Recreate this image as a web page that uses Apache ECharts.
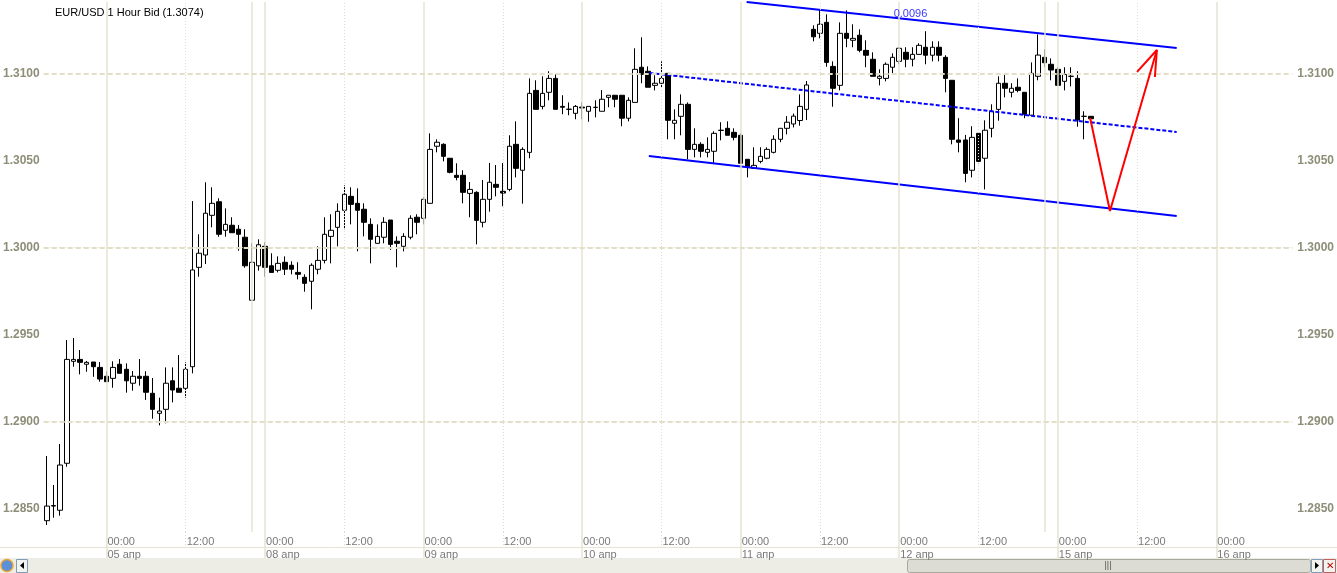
<!DOCTYPE html>
<html>
<head>
<meta charset="utf-8">
<script src="https://cdn.jsdelivr.net/npm/echarts@6/dist/echarts.min.js"></script>
<style>
html,body{margin:0;padding:0;background:#fff;}
#chart{width:1337px;height:573px;}
</style>
</head>
<body>
<div id="chart"></div>
<script>
// ---- categories (hourly slots, weekend skipped) ----
const days = ['04 апр','05 апр','08 апр','09 апр','10 апр','11 апр','12 апр','15 апр','16 апр'];
const firstHour = 15;
const slotCount = 189;
const weekStarts = [31, 151];

// ---- OHLC values (EUR/USD, 1 hour bid) ----
const opens = [1.28430,1.28514,1.28490,1.28760,1.29346,1.29357,1.29329,1.29342,1.29311,1.29260,1.29248,1.29329,1.29300,1.29220,1.29260,1.29260,1.29162,1.29047,1.29070,1.29234,1.29191,1.29191,1.29315,1.29886,1.29957,1.30185,1.30263,1.30099,1.30128,1.30105,1.30059,1.29697,1.29895,1.30007,1.29895,1.29869,1.29915,1.29898,1.29857,1.29829,1.29806,1.29875,1.29926,1.30064,1.30116,1.30214,1.30294,1.30254,1.30220,1.30133,1.30024,1.30059,1.30158,1.30036,1.30007,1.30059,1.30174,1.30168,1.30254,1.30582,1.30593,1.30513,1.30415,1.30415,1.30311,1.30317,1.30145,1.30277,1.30363,1.30323,1.30334,1.30593,1.30444,1.30547,1.30903,1.30811,1.30892,1.30972,1.30811,1.30794,1.30771,1.30807,1.30783,1.30806,1.30783,1.30863,1.30875,1.30875,1.30743,1.30834,1.31036,1.31013,1.30932,1.30944,1.31001,1.30714,1.30754,1.30823,1.30564,1.30593,1.30547,1.30553,1.30674,1.30685,1.30662,1.30645,1.30507,1.30455,1.30495,1.30513,1.30547,1.30622,1.30685,1.30710,1.30730,1.30794,1.31254,1.31231,1.31294,1.31041,1.30932,1.31231,1.31191,1.31220,1.31133,1.31082,1.30972,1.30972,1.31036,1.31070,1.31122,1.31082,1.31110,1.31151,1.31105,1.31151,1.31093,1.30961,1.30618,1.30618,1.30444,1.30656,1.30513,1.30685,1.30794,1.30944,1.30892,1.30921,1.30892,1.30760,1.30984,1.31093,1.31053,1.31024,1.30955,1.30984,1.30972,1.30754,1.30754];
const closes = [1.28514,1.28517,1.28750,1.29357,1.29357,1.29340,1.29340,1.29315,1.29244,1.29229,1.29311,1.29277,1.29234,1.29260,1.29248,1.29168,1.29070,1.29060,1.29220,1.29181,1.29168,1.29300,1.29871,1.29967,1.30197,1.30254,1.30076,1.30133,1.30085,1.30076,1.29895,1.29915,1.30016,1.29886,1.29857,1.29909,1.29875,1.29875,1.29846,1.29794,1.29898,1.29926,1.30076,1.30099,1.30208,1.30306,1.30248,1.30214,1.30145,1.30047,1.30064,1.30145,1.30018,1.30024,1.30064,1.30168,1.30145,1.30277,1.30564,1.30605,1.30524,1.30432,1.30403,1.30317,1.30334,1.30156,1.30277,1.30375,1.30346,1.30313,1.30582,1.30455,1.30564,1.30886,1.30794,1.30886,1.30972,1.30794,1.30806,1.30795,1.30811,1.30802,1.30811,1.30805,1.30852,1.30875,1.30852,1.30743,1.30846,1.31024,1.30995,1.30921,1.30944,1.30972,1.30731,1.30731,1.30823,1.30564,1.30593,1.30553,1.30564,1.30656,1.30673,1.30645,1.30633,1.30484,1.30464,1.30472,1.30524,1.30564,1.30622,1.30685,1.30720,1.30755,1.30811,1.30934,1.31211,1.31283,1.31064,1.30915,1.31231,1.31202,1.31202,1.31133,1.31105,1.30984,1.30984,1.31053,1.31093,1.31145,1.31082,1.31110,1.31162,1.31105,1.31151,1.31105,1.30972,1.30622,1.30605,1.30426,1.30633,1.30495,1.30674,1.30783,1.30944,1.30915,1.30915,1.30903,1.30766,1.31001,1.31106,1.31062,1.31020,1.30932,1.30995,1.30984,1.30733,1.30754,1.30740];
const lows = [1.28405,1.28447,1.28459,1.28740,1.29315,1.29271,1.29286,1.29257,1.29229,1.29229,1.29194,1.29277,1.29166,1.29177,1.29206,1.29124,1.29016,1.28978,1.28990,1.29110,1.29168,1.29137,1.29277,1.29832,1.29905,1.30116,1.30062,1.30062,1.30085,1.29982,1.29884,1.29697,1.29867,1.29832,1.29857,1.29857,1.29842,1.29846,1.29817,1.29746,1.29645,1.29846,1.29909,1.29909,1.30007,1.30105,1.30133,1.29978,1.30064,1.29909,1.30024,1.30024,1.29986,1.29886,1.29978,1.30047,1.30076,1.30133,1.30254,1.30547,1.30495,1.30426,1.30386,1.30254,1.30174,1.30018,1.30116,1.30206,1.30294,1.30237,1.30323,1.30403,1.30252,1.30513,1.30794,1.30794,1.30846,1.30794,1.30766,1.30760,1.30737,1.30737,1.30723,1.30748,1.30783,1.30806,1.30806,1.30697,1.30725,1.30834,1.30944,1.30921,1.30903,1.30921,1.30622,1.30622,1.30645,1.30507,1.30518,1.30518,1.30518,1.30484,1.30616,1.30645,1.30616,1.30484,1.30403,1.30455,1.30484,1.30507,1.30541,1.30605,1.30650,1.30690,1.30700,1.30733,1.31185,1.31202,1.31039,1.30809,1.30903,1.31151,1.31151,1.31122,1.31036,1.30984,1.30932,1.30955,1.30995,1.31053,1.31036,1.31041,1.31110,1.31053,1.31070,1.31070,1.30892,1.30593,1.30547,1.30375,1.30403,1.30484,1.30334,1.30633,1.30729,1.30863,1.30863,1.30892,1.30743,1.30760,1.30961,1.31036,1.30961,1.30932,1.30903,1.30926,1.30694,1.30622,1.30716];
const highs = [1.28802,1.28635,1.28871,1.29468,1.29480,1.29411,1.29348,1.29342,1.29342,1.29289,1.29346,1.29359,1.29334,1.29290,1.29359,1.29289,1.29250,1.29137,1.29311,1.29311,1.29382,1.29340,1.30267,1.30076,1.30375,1.30346,1.30283,1.30225,1.30174,1.30129,1.30105,1.30024,1.30047,1.30030,1.29967,1.29949,1.29949,1.29921,1.29915,1.29846,1.29909,1.30007,1.30174,1.30191,1.30254,1.30357,1.30346,1.30340,1.30254,1.30168,1.30133,1.30174,1.30158,1.30064,1.30082,1.30185,1.30191,1.30289,1.30656,1.30622,1.30599,1.30513,1.30484,1.30444,1.30376,1.30323,1.30388,1.30486,1.30474,1.30486,1.30645,1.30725,1.30576,1.30972,1.30961,1.30984,1.31013,1.30995,1.30875,1.30834,1.30819,1.30834,1.30811,1.30846,1.30905,1.30875,1.30875,1.30875,1.30863,1.31145,1.31208,1.31041,1.30990,1.31070,1.31001,1.30794,1.30880,1.30834,1.30685,1.30605,1.30633,1.30668,1.30720,1.30725,1.30685,1.30656,1.30507,1.30576,1.30576,1.30576,1.30645,1.30685,1.30755,1.30770,1.30880,1.30957,1.31277,1.31369,1.31340,1.31070,1.31294,1.31363,1.31283,1.31254,1.31191,1.31122,1.31024,1.31064,1.31116,1.31151,1.31151,1.31151,1.31174,1.31243,1.31185,1.31185,1.31105,1.30961,1.30743,1.30647,1.30697,1.30662,1.30731,1.30823,1.30984,1.30995,1.30944,1.30972,1.30892,1.31064,1.31225,1.31139,1.31087,1.31036,1.31036,1.31036,1.31013,1.30783,1.30756];

// ---- price axis ----
const yMin = 1.28365, yMax = 1.31411;
const yTicks = [1.285, 1.290, 1.295, 1.300, 1.305, 1.310];
const yMajor = [1.290, 1.300, 1.310];
const yMinor = [1.285, 1.295, 1.305];

// ---- drawn objects (slot index, price) ----
const channelTop = [[105.9, 1.31411], [171.0, 1.31147]];
const channelMid = [[91.2, 1.31003], [171.0, 1.30664]];
const channelLow = [[91.1, 1.30526], [171.0, 1.30181]];
const forecast = [[157.9, 1.30744], [160.9, 1.30210], [168.0, 1.31135]];
const arrowHead = [[165.0, 1.31009], [168.0, 1.31135], [167.7, 1.30980]];
const channelLabel = [[130.7, 1.31342, '0.0096']];
const titleText = 'EUR/USD 1 Hour Bid (1.3074)';

// ---- build ----
const categories = [];
days.forEach((d, di) => {
  for (let h = (di === 0 ? firstHour : 0); h < 24; h++) {
    if (categories.length < slotCount) categories.push(d + ' ' + String(h).padStart(2, '0') + ':00');
  }
});
const hourOf = i => categories[i].slice(-5);
const dayOf = i => categories[i].slice(0, -6);
const midnights = [], noons = [];
categories.forEach((c, i) => { if (hourOf(i) === '00:00') midnights.push(i); if (hourOf(i) === '12:00') noons.push(i); });
const candles = opens.map((o, i) => [o, closes[i], lows[i], highs[i]]);

const BAND = 6.62;
const GL = 42.4, GT = 2, GH = 530;
const GW = BAND * slotCount;
const GRIDC = '#e3dfc6';
const LABC = '#8e8e78';

const chart = echarts.init(document.getElementById('chart'), null, {renderer: 'canvas'});
const font = 'Liberation Sans, Arial, sans-serif';

const vLines = [];
midnights.forEach(i => vLines.push({xAxis: i, lineStyle: {type: 'solid', color: '#e6e3d0', width: 1.5}}));
weekStarts.forEach(i => vLines.push({xAxis: i, lineStyle: {type: 'solid', color: '#e6e3d0', width: 1.5}}));
noons.forEach(i => vLines.push({xAxis: i, lineStyle: {type: [1, 2], color: '#e0ddcc', width: 1}}));
const hLines = [];
yMajor.forEach(v => hLines.push({yAxis: v, lineStyle: {type: [5, 3], color: GRIDC, width: 2}}));
yMinor.forEach(v => hLines.push({yAxis: v, lineStyle: {type: [1, 2], color: '#e0ddcc', width: 1}}));

const yAxisCommon = {
  type: 'value', min: yMin, max: yMax, scale: true,
  axisLine: {show: false}, axisTick: {show: false}, splitLine: {show: false},
  axisLabel: {customValues: yTicks, formatter: v => v.toFixed(4), color: LABC, fontWeight: 'bold', fontSize: 12, fontFamily: font, margin: 4}
};

chart.setOption({
  animation: false,
  backgroundColor: '#ffffff',
  title: {text: titleText, left: 50, top: 2, textStyle: {fontSize: 11, fontWeight: 'normal', color: '#000', fontFamily: font}},
  grid: {left: GL, top: GT, width: GW, height: GH},
  xAxis: [
    {
      type: 'category', data: categories, boundaryGap: true,
      axisLine: {show: false},
      axisTick: {show: true, alignWithLabel: true, length: 26, interval: (i) => hourOf(i) === '00:00', lineStyle: {color: '#e6e3d0', width: 1.5}},
      splitLine: {show: false},
      axisLabel: {
        interval: (i) => hourOf(i) === '00:00' || hourOf(i) === '12:00',
        formatter: (v, i) => hourOf(i) === '00:00' ? '00:00\n' + dayOf(i) : hourOf(i),
        align: 'left', padding: [0, 0, 0, 1], margin: 3, lineHeight: 13,
        color: '#7a7a7a', fontSize: 11, fontFamily: font
      }
    },
    {type: 'value', min: -0.5, max: slotCount - 0.5, show: false},
    {
      type: 'category', data: categories, boundaryGap: true, position: 'bottom',
      axisLine: {show: false}, axisLabel: {show: false}, splitLine: {show: false},
      axisTick: {show: true, alignWithLabel: true, length: 15, interval: (i) => hourOf(i) === '12:00', lineStyle: {color: '#e0ddcc', width: 1, type: [1, 2]}}
    }
  ],
  yAxis: [
    Object.assign({}, yAxisCommon, {position: 'left'}),
    Object.assign({}, yAxisCommon, {position: 'right', axisLabel: Object.assign({}, yAxisCommon.axisLabel, {margin: 5})})
  ],
  series: [
    {
      type: 'line', data: [], z: 1, silent: true,
      markLine: {symbol: 'none', silent: true, label: {show: false}, animation: false, data: vLines.concat(hLines)}
    },
    {
      type: 'candlestick', data: candles, z: 3, barWidth: 5,
      itemStyle: {color: '#ffffff', color0: '#000000', borderColor: '#000000', borderColor0: '#000000', borderWidth: 1}
    },
    {type: 'line', xAxisIndex: 1, data: channelTop, symbol: 'none', z: 4, lineStyle: {color: '#0000ff', width: 2}},
    {type: 'line', xAxisIndex: 1, data: channelMid, symbol: 'none', z: 4, lineStyle: {color: '#0000ff', width: 2, type: [4, 2]}},
    {type: 'line', xAxisIndex: 1, data: channelLow, symbol: 'none', z: 4, lineStyle: {color: '#0000ff', width: 2}},
    {type: 'line', xAxisIndex: 1, data: forecast, symbol: 'none', z: 5, lineStyle: {color: '#ff0000', width: 2}},
    {type: 'line', xAxisIndex: 1, data: arrowHead, symbol: 'none', z: 5, lineStyle: {color: '#ff0000', width: 2}},
    {
      type: 'scatter', xAxisIndex: 1, data: channelLabel, symbolSize: 0, z: 6,
      label: {show: true, position: 'inside', formatter: p => p.data[2], color: '#0000ff', fontSize: 11, fontFamily: font}
    }
  ],
  graphic: [
    {type: 'line', shape: {x1: 0, y1: 547.5, x2: 1337, y2: 547.5}, style: {stroke: '#e6e3d0', lineWidth: 1}, silent: true},
    {type: 'rect', shape: {x: 0, y: 558, width: 1337, height: 15}, style: {fill: '#eeede5'}, silent: true},
    {type: 'rect', shape: {x: 16.5, y: 559.5, width: 11, height: 13}, style: {fill: '#f4f4ef', stroke: '#7f9db9', lineWidth: 1}, silent: true},
    {type: 'polygon', shape: {points: [[24, 562], [24, 569], [20, 565.5]]}, style: {fill: '#000'}, silent: true},
    {type: 'circle', shape: {cx: 7, cy: 565.5, r: 6}, style: {fill: '#5b8fd6', stroke: '#e5a43a', lineWidth: 1.5}, silent: true},
    {type: 'rect', shape: {x: 907.5, y: 559.5, width: 403, height: 13, r: 2}, style: {fill: '#dcdcd4', stroke: '#a8a89c', lineWidth: 1}, silent: true},
    {type: 'text', style: {x: 1108, y: 566, text: '|||', fill: '#555', font: '9px ' + font, align: 'center', verticalAlign: 'middle'}, silent: true},
    {type: 'rect', shape: {x: 1311.5, y: 559.5, width: 11, height: 13}, style: {fill: '#f4f4ef', stroke: '#7f9db9', lineWidth: 1}, silent: true},
    {type: 'polygon', shape: {points: [[1315, 562], [1315, 569], [1319, 565.5]]}, style: {fill: '#000'}, silent: true},
    {type: 'rect', shape: {x: 1323.5, y: 559.5, width: 12, height: 13}, style: {fill: '#f4f4ef', stroke: '#c06060', lineWidth: 1}, silent: true},
    {type: 'text', style: {x: 1329.5, y: 566, text: '✕', fill: '#c00000', font: '10px ' + font, align: 'center', verticalAlign: 'middle'}, silent: true}
  ]
});
</script>
</body>
</html>
